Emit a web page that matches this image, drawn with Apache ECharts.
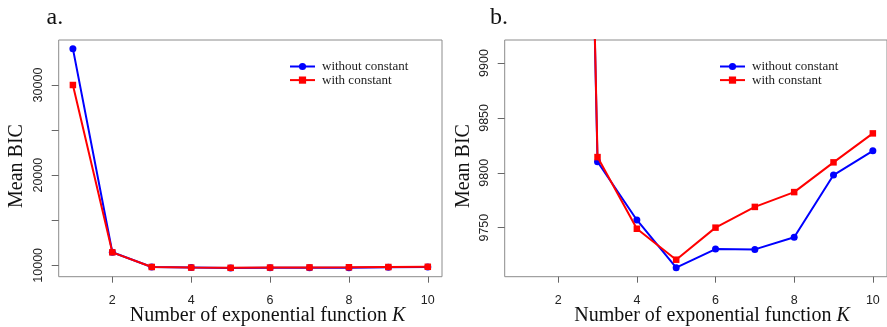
<!DOCTYPE html>
<html>
<head>
<meta charset="utf-8">
<script src="https://cdn.jsdelivr.net/npm/echarts@6/dist/echarts.min.js"></script>
<style>
html,body{margin:0;padding:0;background:#fff;}
#chart{width:887px;height:327px;}
</style>
</head>
<body>
<div id="chart"></div>
<script>
// ---- data ----
const K = [1, 2, 3, 4, 5, 6, 7, 8, 9, 10];
const withoutConstant = [34030, 11450, 9810, 9757, 9713.5, 9730.5, 9730.2, 9741.2, 9797.9, 9820];
const withConstant = [30000, 11440, 9814.3, 9749, 9720.8, 9750, 9768.9, 9782.4, 9809.5, 9835.9];
const xTicks = [2, 4, 6, 8, 10];
const yTicksA = [10000, 15000, 20000, 25000, 30000, 35000];
const yLabelsA = [10000, 20000, 30000];
const yTicksB = [9750, 9800, 9850, 9900];
const seriesNames = ['without constant', 'with constant'];

const pairs = (vals) => K.map((k, i) => [k, vals[i]]);

const SERIF = '"Liberation Serif", "DejaVu Serif", serif';
const SANS = '"Liberation Sans", Arial, sans-serif';
const BORDER = '#8c8c8c';
const TICKC = '#666';

function xAxis(gi) {
  return {
    type: 'value', gridIndex: gi, min: 0.64, max: 10.36,
    axisLine: {show: false},
    splitLine: {show: false},
    axisTick: {show: true, customValues: xTicks, length: 6, lineStyle: {color: TICKC}},
    axisLabel: {customValues: xTicks, fontFamily: SANS, fontSize: 12.5, color: '#222', margin: 17}
  };
}
function yAxis(gi, min, max, ticks, labels) {
  return {
    type: 'value', gridIndex: gi, min: min, max: max,
    axisLine: {show: false},
    splitLine: {show: false},
    axisTick: {show: true, customValues: ticks, length: 7, lineStyle: {color: TICKC}},
    axisLabel: {customValues: labels, rotate: 90, fontFamily: SANS, fontSize: 12.5, color: '#222', margin: 14,
      formatter: v => String(Math.round(v))}
  };
}
function mkSeries(gi) {
  return [
    {name: seriesNames[0], type: 'line', xAxisIndex: gi, yAxisIndex: gi, data: pairs(withoutConstant),
      symbol: 'circle', symbolSize: 7, color: '#0000ff', lineStyle: {width: 2, color: '#0000ff'},
      itemStyle: {color: '#0000ff'}, clip: true, animation: false, z: 2},
    {name: seriesNames[1], type: 'line', xAxisIndex: gi, yAxisIndex: gi, data: pairs(withConstant),
      symbol: 'rect', symbolSize: 6.5, color: '#ff0000', lineStyle: {width: 2, color: '#ff0000'},
      itemStyle: {color: '#ff0000'}, clip: true, animation: false, z: 3}
  ];
}
function legend(left) {
  return {
    left: left, top: 60, padding: 0, orient: 'vertical', itemWidth: 25, itemHeight: 9, itemGap: 0.6,
    data: seriesNames, selectedMode: false,
    textStyle: {fontFamily: SERIF, fontSize: 13, color: '#222', lineHeight: 13, padding: [0, 0, 0, 2]}
  };
}

const chart = echarts.init(document.getElementById('chart'), null, {renderer: 'canvas'});
chart.setOption({
  animation: false,
  backgroundColor: '#fff',
  grid: [
    {left: 58.7, top: 40, width: 383.3, height: 236.7, show: true, borderColor: BORDER, borderWidth: 1, backgroundColor: 'transparent'},
    {left: 504.7, top: 40, width: 383.8, height: 236.7, show: true, borderColor: BORDER, borderWidth: 1, backgroundColor: 'transparent'}
  ],
  xAxis: [xAxis(0), xAxis(1)],
  yAxis: [yAxis(0, 8736, 34992, yTicksA, yLabelsA), yAxis(1, 9705.3, 9921, yTicksB, yTicksB)],
  legend: [legend(289), legend(719)],
  series: mkSeries(0).concat(mkSeries(1)),
  graphic: [
    {type: 'text', left: 46.5, top: 6, style: {text: 'a.', font: '24px ' + SERIF, fill: '#111'}},
    {type: 'text', left: 490, top: 6, style: {text: 'b.', font: '24px ' + SERIF, fill: '#111'}},
    {type: 'text', x: 16.5, y: 166, rotation: Math.PI / 2,
      style: {text: 'Mean BIC', font: '20px ' + SERIF, fill: '#111', align: 'center', verticalAlign: 'middle'}},
    {type: 'text', x: 464, y: 166, rotation: Math.PI / 2,
      style: {text: 'Mean BIC', font: '20px ' + SERIF, fill: '#111', align: 'center', verticalAlign: 'middle'}},
    {type: 'text', x: 267.5, y: 316,
      style: {text: 'Number of exponential function {i|K}', font: '20px ' + SERIF, fill: '#111', align: 'center', verticalAlign: 'middle',
        rich: {i: {fontStyle: 'italic', fontFamily: SERIF, fontSize: 20, fill: '#111'}}}},
    {type: 'text', x: 712, y: 316,
      style: {text: 'Number of exponential function {i|K}', font: '20px ' + SERIF, fill: '#111', align: 'center', verticalAlign: 'middle',
        rich: {i: {fontStyle: 'italic', fontFamily: SERIF, fontSize: 20, fill: '#111'}}}}
  ]
});
</script>
</body>
</html>
